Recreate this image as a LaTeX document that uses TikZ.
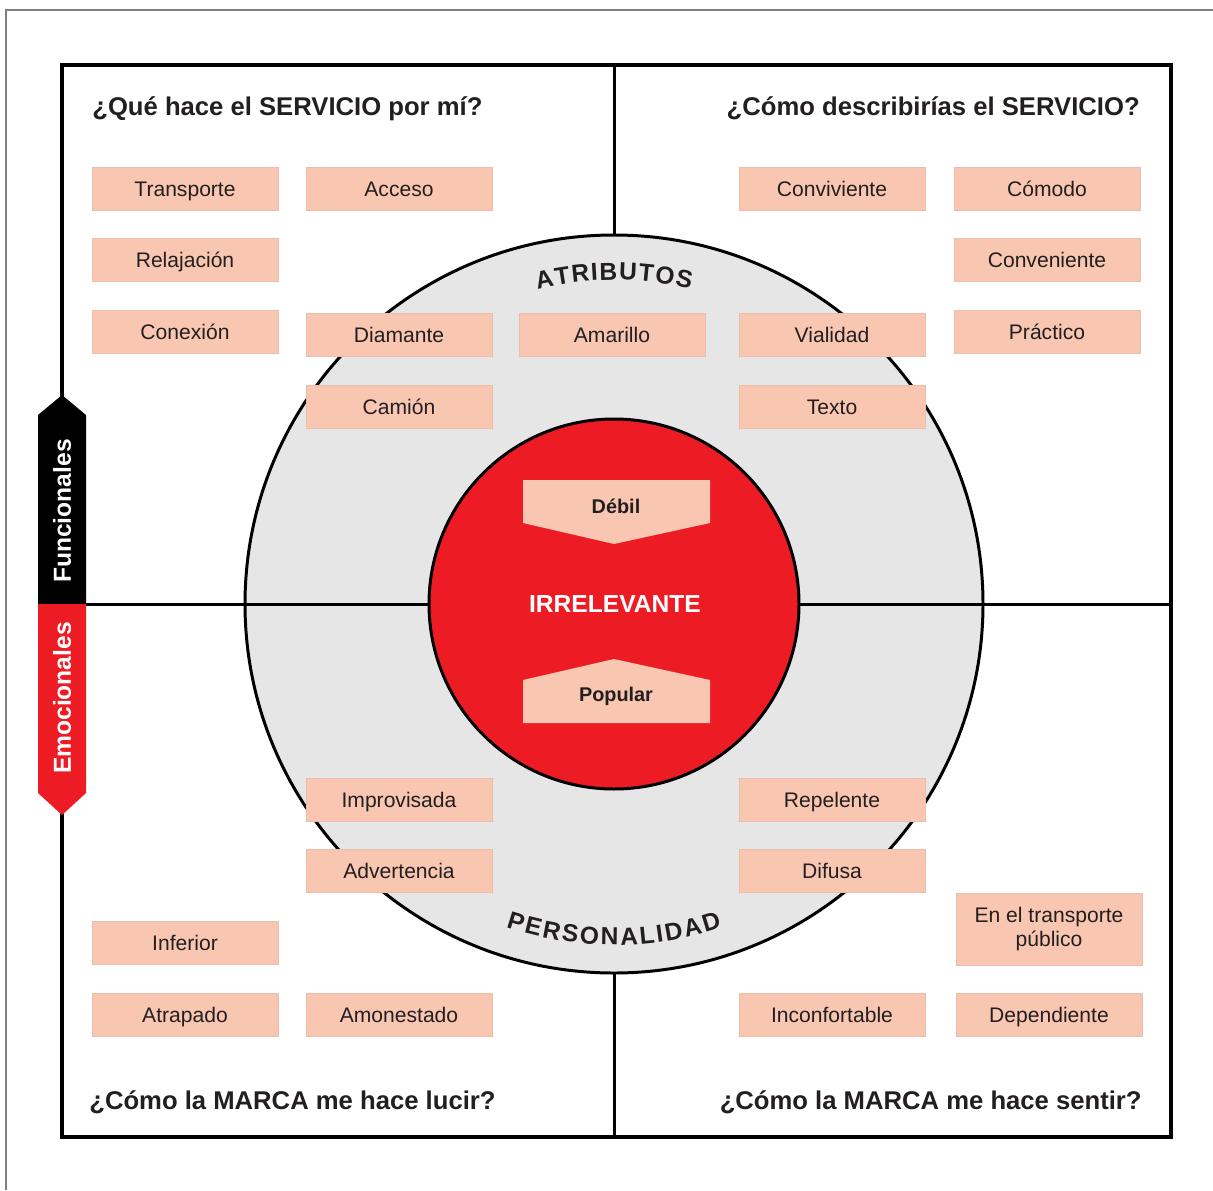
\documentclass[tikz,border=0pt]{standalone}
\usepackage{fontspec}
\setmainfont{Liberation Sans}
\usetikzlibrary{decorations.text}
\definecolor{peach}{RGB}{249,199,177}
\definecolor{brandred}{RGB}{237,28,36}
\definecolor{ringgray}{RGB}{230,230,230}
\definecolor{framegray}{RGB}{128,128,128}
\definecolor{ink}{RGB}{35,31,32}
\begin{document}
\begin{tikzpicture}[x=0.02cm,y=0.02cm,
  tag/.style={fill=peach,draw=peach!88!gray,line width=0.4pt,minimum width=3.72cm,
    minimum height=0.86cm,inner sep=0pt,text height=8.6pt,text depth=0pt,
    text=ink,font=\fontsize{12}{14}\selectfont},
  question/.style={inner sep=0pt,text=ink,font=\bfseries\fontsize{14.6}{16}\selectfont},
  sidetab/.style={rotate=90,inner sep=0pt,text=white,font=\bfseries\fontsize{14}{14}\selectfont},
  bold/.style={line width=1.7pt}]
  \useasboundingbox (0,0) rectangle (1213,-1190);
  \draw[framegray,line width=1pt] (6,-1190) |- (1213,-10);

  % cuadrantes
  \draw[line width=2pt] (62,-65) rectangle (1171,-1137);
  \draw[bold] (614,-65) -- (614,-1137) (62,-604) -- (1171,-604);
  \draw[bold,fill=ringgray] (614,-604) circle[radius=369];
  \draw[bold] (245,-604) -- (983,-604);
  \draw[bold,fill=brandred] (614,-604) circle[radius=185];

  \path[decorate,decoration={text along path,text align={fit to path},
    text={|\bfseries\fontsize{14}{14}\selectfont\color{ink}|ATRIBUTOS}}]
    (614,-604) ++(103.7:324) arc[start angle=103.7,end angle=76.3,radius=324];
  \path[decorate,decoration={text along path,text align={fit to path},
    text={|\bfseries\fontsize{14}{14}\selectfont\color{ink}|PERSONALIDAD}}]
    (614,-604) ++(251.5:341) arc[start angle=251.5,end angle=288.5,radius=341];

  % preguntas
  \node[question,anchor=base west] (q1) at (92,-115) {¿Qué hace el SERVICIO por mí?};
  \node[question,anchor=base east] (q2) at (1140,-115) {¿Cómo describirías el SERVICIO?};
  \node[question,anchor=base west] (q3) at (89,-1109) {¿Cómo la MARCA me hace lucir?};
  \node[question,anchor=base east] (q4) at (1142,-1109) {¿Cómo la MARCA me hace sentir?};

  % funcionales / emocionales
  \fill (62,-395) -- (86,-415) -- (86,-604) -- (38,-604) -- (38,-415) -- cycle;
  \fill[brandred] (38,-604) -- (86,-604) -- (86,-793) -- (62,-815) -- (38,-793) -- cycle;
  \node[sidetab] (func) at (62,-511) {Funcionales};
  \node[sidetab] (emoc) at (62,-698) {Emocionales};

  % atributos
  \node[tag] (transp) at (185,-189) {Transporte};
  \node[tag] (acceso) at (399,-189) {Acceso};
  \node[tag] (relaj) at (185,-260) {Relajación};
  \node[tag] (conex) at (185,-332) {Conexión};
  \node[tag] (diam) at (399,-335) {Diamante};
  \node[tag] (camion) at (399,-407) {Camión};
  \node[tag] (amar) at (612,-335) {Amarillo};
  \node[tag] (conviv) at (832,-189) {Conviviente};
  \node[tag] (comodo) at (1047,-189) {Cómodo};
  \node[tag] (conven) at (1047,-260) {Conveniente};
  \node[tag] (practico) at (1047,-332) {Práctico};
  \node[tag] (vial) at (832,-335) {Vialidad};
  \node[tag] (texto) at (832,-407) {Texto};

  % personalidad
  \node[tag] (improv) at (399,-800) {Improvisada};
  \node[tag] (advert) at (399,-871) {Advertencia};
  \node[tag] (inferior) at (185,-943) {Inferior};
  \node[tag] (atrap) at (185,-1015) {Atrapado};
  \node[tag] (amon) at (399,-1015) {Amonestado};
  \node[tag] (repel) at (832,-800) {Repelente};
  \node[tag] (difusa) at (832,-871) {Difusa};
  \node[tag] (inconf) at (832,-1015) {Inconfortable};
  \node[tag,minimum height=1.44cm,text height={},text depth={},align=center,
    font=\fontsize{12}{13.5}\selectfont] (publico) at (1049,-929) {En el transporte\\público};
  \node[tag] (depend) at (1049,-1015) {Dependiente};

  % centro
  \fill[peach] (523,-480) -- (710,-480) -- (710,-523) -- (614,-544) -- (523,-523) -- cycle;
  \fill[peach] (523,-723) -- (710,-723) -- (710,-680) -- (614,-659) -- (523,-680) -- cycle;
  \node[text=ink,font=\bfseries\fontsize{11.3}{12}\selectfont] (debil) at (616,-506) {Débil};
  \node[text=ink,font=\bfseries\fontsize{11.3}{12}\selectfont] (popular) at (616,-696) {Popular};
  \node[text=white,font=\bfseries\fontsize{14}{14}\selectfont] (irrel) at (615,-604) {IRRELEVANTE};
\end{tikzpicture}
\end{document}
